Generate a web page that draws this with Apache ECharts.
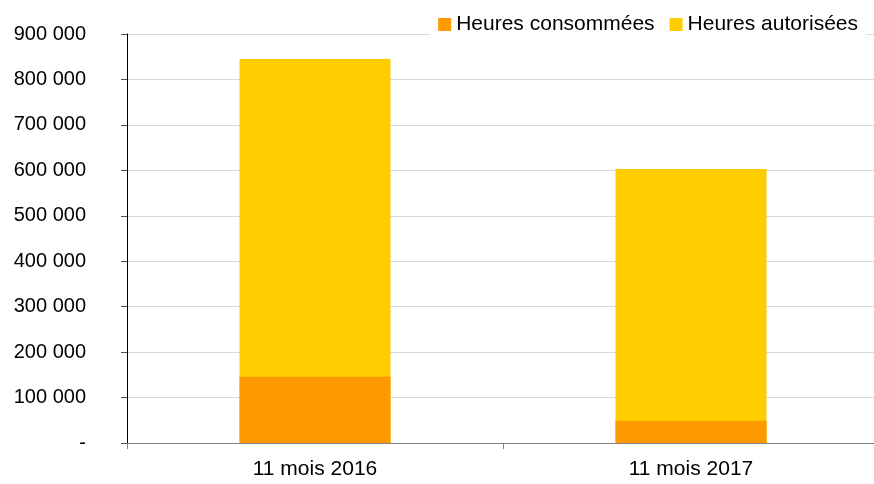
<!DOCTYPE html>
<html>
<head>
<meta charset="utf-8">
<script src="https://cdn.jsdelivr.net/npm/echarts@6/dist/echarts.min.js"></script>
<style>
html, body { margin: 0; padding: 0; background: #fff; }
#chart { width: 874px; height: 484px; }
</style>
</head>
<body>
<div id="chart"></div>
<script>
var categories = ['11 mois 2016', '11 mois 2017'];
var heuresAutorisees = [845000, 603000];
var heuresConsommees = [146000, 49000];
var seriesNames = ['Heures consommées', 'Heures autorisées'];

var chartDom = document.getElementById('chart');
var myChart = echarts.init(chartDom);

function fmtNombre(v) {
	if (v === 0) return '-';
	return String(v).replace(/\B(?=(\d{3})+(?!\d))/g, ' ');
}

myChart.setOption({
	animation: false,
	textStyle: {
		fontFamily: 'Liberation Sans, Arial, sans-serif'
	},
	grid: {
		left: 127,
		width: 752,
		top: 34,
		bottom: 41,
		containLabel: false,
		outerBoundsMode: 'none'
	},
	legend: {
		data: seriesNames,
		right: 8,
		top: 11,
		padding: [3, 8],
		backgroundColor: '#fff',
		itemWidth: 13,
		itemHeight: 13,
		itemGap: 15,
		icon: 'rect',
		textStyle: {
			fontSize: 21,
			color: '#000'
		}
	},
	xAxis: {
		type: 'category',
		data: categories,
		axisLine: { lineStyle: { color: '#808080', width: 1 } },
		axisTick: { show: true, length: 6, lineStyle: { color: '#808080' } },
		axisLabel: { fontSize: 21, color: '#000', margin: 16 }
	},
	yAxis: {
		type: 'value',
		min: 0,
		max: 900000,
		interval: 100000,
		axisLine: { show: true, lineStyle: { color: '#000', width: 1 } },
		axisTick: { show: true, length: 6, lineStyle: { color: '#555' } },
		splitLine: { show: true, lineStyle: { color: '#d9d9d9', width: 1 } },
		axisLabel: {
			fontSize: 20,
			color: '#000',
			margin: 41,
			formatter: fmtNombre
		}
	},
	series: [{
		name: seriesNames[1],
		type: 'bar',
		data: heuresAutorisees,
		barWidth: 151,
		itemStyle: { color: '#ffcc00' }
	}, {
		name: seriesNames[0],
		type: 'bar',
		data: heuresConsommees,
		barWidth: 151,
		barGap: '-100%',
		itemStyle: { color: '#ff9900' }
	}]
});
</script>
</body>
</html>
